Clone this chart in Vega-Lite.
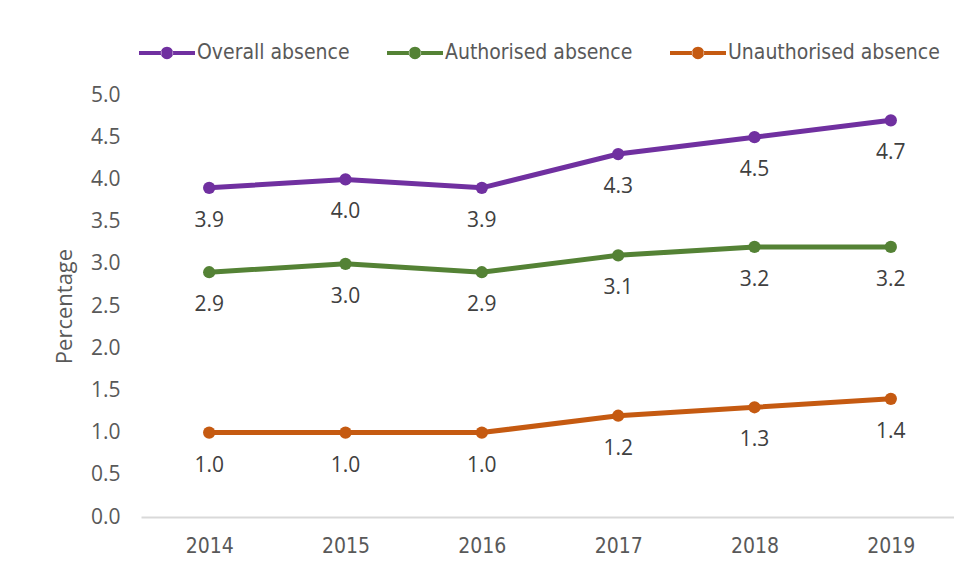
{
  "$schema": "https://vega.github.io/schema/vega-lite/v6.json",
  "width": 818,
  "height": 422,
  "autosize": {"type": "none"},
  "padding": {"left": 141, "top": 95, "right": 0, "bottom": 60},
  "background": "white",
  "config": {
    "view": {"stroke": null},
    "axis": {"grid": false, "ticks": false}
  },
  "data": {
    "values": [
      {"year": "2014", "series": "Overall absence", "value": 3.9},
      {"year": "2015", "series": "Overall absence", "value": 4.0},
      {"year": "2016", "series": "Overall absence", "value": 3.9},
      {"year": "2017", "series": "Overall absence", "value": 4.3},
      {"year": "2018", "series": "Overall absence", "value": 4.5},
      {"year": "2019", "series": "Overall absence", "value": 4.7},
      {"year": "2014", "series": "Authorised absence", "value": 2.9},
      {"year": "2015", "series": "Authorised absence", "value": 3.0},
      {"year": "2016", "series": "Authorised absence", "value": 2.9},
      {"year": "2017", "series": "Authorised absence", "value": 3.1},
      {"year": "2018", "series": "Authorised absence", "value": 3.2},
      {"year": "2019", "series": "Authorised absence", "value": 3.2},
      {"year": "2014", "series": "Unauthorised absence", "value": 1.0},
      {"year": "2015", "series": "Unauthorised absence", "value": 1.0},
      {"year": "2016", "series": "Unauthorised absence", "value": 1.0},
      {"year": "2017", "series": "Unauthorised absence", "value": 1.2},
      {"year": "2018", "series": "Unauthorised absence", "value": 1.3},
      {"year": "2019", "series": "Unauthorised absence", "value": 1.4}
    ]
  },
  "encoding": {
    "x": {
      "field": "year",
      "type": "ordinal",
      "scale": {"type": "point", "padding": 0.5},
      "axis": {
        "title": null,
        "labelAngle": 0,
        "labelFont": "DejaVu Sans Condensed",
        "labelFontSize": 21,
        "labelColor": "#595959",
        "labelPadding": 18,
        "domainColor": "#D9D9D9",
        "domainWidth": 2
      }
    },
    "y": {
      "field": "value",
      "type": "quantitative",
      "scale": {"domain": [0, 5], "nice": false},
      "axis": {
        "title": "Percentage",
        "titleFont": "Open Sans",
        "titleFontSize": 22,
        "titleFontWeight": "normal",
        "titleColor": "#595959",
        "titlePadding": 14,
        "values": [0, 0.5, 1, 1.5, 2, 2.5, 3, 3.5, 4, 4.5, 5],
        "format": ".1f",
        "labelFont": "Open Sans",
        "labelFontSize": 21,
        "labelColor": "#595959",
        "labelPadding": 21,
        "domain": false
      }
    },
    "color": {
      "field": "series",
      "type": "nominal",
      "scale": {
        "domain": ["Overall absence", "Authorised absence", "Unauthorised absence"],
        "range": ["#7030A0", "#548235", "#C55A11"]
      },
      "legend": {
        "title": null,
        "orient": "none",
        "direction": "horizontal",
        "legendX": -2,
        "legendY": -70,
        "gridAlign": "none",
        "symbolType": "M-1,-0.075L-0.2,-0.075L-0.2,0.075L-1,0.075Z M0.2,-0.075L1,-0.075L1,0.075L0.2,0.075Z M-0.22,0A0.22,0.22 0 1,0 0.22,0A0.22,0.22 0 1,0 -0.22,0Z",
        "symbolSize": 3136,
        "symbolStrokeWidth": 0,
        "symbolOpacity": 1,
        "labelFont": "DejaVu Sans Condensed",
        "labelFontSize": 21,
        "labelColor": "#595959",
        "labelOffset": 2,
        "labelLimit": 400,
        "columnPadding": 37
      }
    }
  },
  "layer": [
    {
      "mark": {"type": "line", "strokeWidth": 5}
    },
    {
      "mark": {"type": "point", "filled": true, "size": 150, "opacity": 1}
    },
    {
      "mark": {
        "type": "text",
        "dy": 33,
        "baseline": "middle",
        "font": "Open Sans",
        "fontSize": 21
      },
      "encoding": {
        "text": {"field": "value", "type": "quantitative", "format": ".1f"},
        "color": {"value": "#404040"}
      }
    }
  ]
}
